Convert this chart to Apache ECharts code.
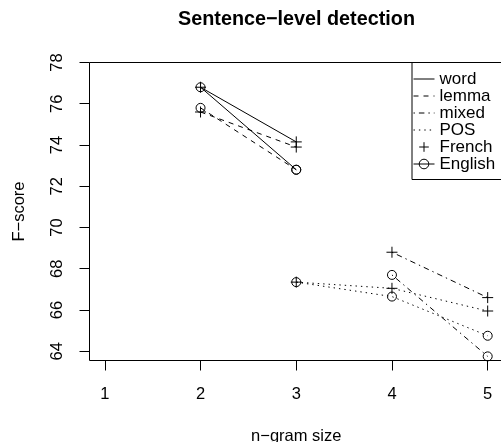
<!DOCTYPE html>
<html>
<head>
<meta charset="utf-8">
<script src="https://cdn.jsdelivr.net/npm/echarts@6/dist/echarts.min.js"></script>
<style>
  html, body { margin: 0; padding: 0; background: #fff; }
  #chart { width: 501px; height: 442px; }
</style>
</head>
<body>
<div id="chart"></div>
<script>
// n-gram sizes and F-scores
const xTicks = [1, 2, 3, 4, 5];
const yTicks = [64, 66, 68, 70, 72, 74, 76, 78];

const wordSizes = [2, 3];
const wordFrench = [76.8, 74.15];
const wordEnglish = [76.8, 72.8];

const lemmaSizes = [2, 3];
const lemmaFrench = [75.6, 73.9];
const lemmaEnglish = [75.8, 72.8];

const mixedSizes = [4, 5];
const mixedFrench = [68.8, 66.6];
const mixedEnglish = [67.7, 63.75];

const posSizes = [3, 4, 5];
const posFrench = [67.35, 67.05, 65.95];
const posEnglish = [67.35, 66.65, 64.75];

const legendNames = ['word', 'lemma', 'mixed', 'POS', 'French', 'English'];

const FONT = 'Liberation Sans, Arial, sans-serif';
const FS = 16.5;
const PLUS = 'path://M0,5H10M5,0V10';

const dashes = {
    word: 'solid',
    lemma: [5, 5],
    mixed: [1.4, 4, 5.5, 4],
    POS: [1.4, 4]
};

const marks = {
    French: { symbol: PLUS, symbolSize: 11 },
    English: { symbol: 'circle', symbolSize: 9 }
};

function pairs(xs, ys) {
    return xs.map((x, i) => [x, ys[i]]);
}

function lineSeries(kind, lang, xs, ys) {
    return {
        name: kind + ' ' + lang,
        type: 'line',
        data: pairs(xs, ys),
        symbol: marks[lang].symbol,
        symbolSize: marks[lang].symbolSize,
        showAllSymbol: true,
        animation: false,
        itemStyle: { color: 'none', borderColor: '#000', borderWidth: 1 },
        lineStyle: { color: '#000', width: 1, type: dashes[kind] }
    };
}

// empty series that only give the legend its keys
function keySeries(name) {
    const s = {
        name: name,
        type: 'line',
        data: [],
        animation: false,
        itemStyle: { color: 'none', borderColor: '#000', borderWidth: 1 },
        lineStyle: { color: '#000', width: 1 }
    };
    if (dashes[name]) {
        s.symbol = 'none';
        s.lineStyle.type = dashes[name];
    } else {
        s.symbol = marks[name].symbol;
        if (name === 'French') s.lineStyle.opacity = 0;
    }
    return s;
}

function legendItem(name) {
    if (dashes[name]) return { name: name, itemStyle: { opacity: 0 } };
    return { name: name };
}

const chart = echarts.init(document.getElementById('chart'));

const option = {
    backgroundColor: '#fff',
    animation: false,
    title: {
        text: 'Sentence\u2212level detection',
        left: 296.5,
        top: 10,
        padding: 0,
        textAlign: 'center',
        textStyle: { fontFamily: FONT, fontSize: 19.8, fontWeight: 'bold', color: '#000' }
    },
    legend: {
        data: legendNames.map(legendItem),
        orient: 'vertical',
        left: 412,
        top: 62.5,
        padding: [8, 30, 7, 1],
        itemWidth: 21,
        itemHeight: 12,
        itemGap: 0,
        borderColor: '#000',
        borderWidth: 1,
        selectedMode: false,
        itemStyle: { borderWidth: 1 },
        lineStyle: { width: 1 },
        textStyle: { fontFamily: FONT, fontSize: 17, color: '#000' }
    },
    grid: {
        left: 89.5,
        top: 62.5,
        right: -2,
        bottom: 81.5,
        show: true,
        borderColor: '#000',
        borderWidth: 1,
        containLabel: false,
        outerBoundsMode: 'none'
    },
    xAxis: {
        type: 'value',
        min: 0.84,
        max: 5.16,
        name: 'n\u2212gram size',
        nameLocation: 'middle',
        nameGap: 67,
        nameTextStyle: { fontFamily: FONT, fontSize: FS, color: '#000' },
        axisLine: { show: false },
        splitLine: { show: false },
        axisTick: { show: true, length: 10, customValues: xTicks, lineStyle: { color: '#000' } },
        axisLabel: {
            customValues: xTicks,
            margin: 25,
            fontFamily: FONT,
            fontSize: FS,
            color: '#000'
        }
    },
    yAxis: {
        type: 'value',
        min: 63.55,
        max: 78,
        name: 'F\u2212score',
        nameLocation: 'middle',
        nameRotate: 90,
        nameGap: 62,
        nameTextStyle: { fontFamily: FONT, fontSize: FS, color: '#000' },
        axisLine: { show: false },
        splitLine: { show: false },
        axisTick: { show: true, length: 10, customValues: yTicks, lineStyle: { color: '#000' } },
        axisLabel: {
            customValues: yTicks,
            rotate: 90,
            margin: 24,
            fontFamily: FONT,
            fontSize: FS,
            color: '#000'
        }
    },
    series: [
        lineSeries('word', 'English', wordSizes, wordEnglish),
        lineSeries('word', 'French', wordSizes, wordFrench),
        lineSeries('lemma', 'English', lemmaSizes, lemmaEnglish),
        lineSeries('lemma', 'French', lemmaSizes, lemmaFrench),
        lineSeries('mixed', 'English', mixedSizes, mixedEnglish),
        lineSeries('mixed', 'French', mixedSizes, mixedFrench),
        lineSeries('POS', 'English', posSizes, posEnglish),
        lineSeries('POS', 'French', posSizes, posFrench)
    ].concat(legendNames.map(keySeries))
};

chart.setOption(option);
</script>
</body>
</html>
